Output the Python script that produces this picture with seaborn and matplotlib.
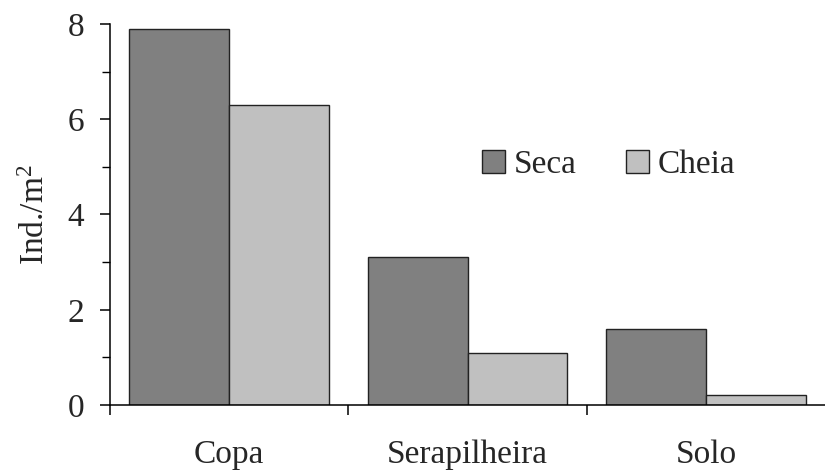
import matplotlib
matplotlib.use("Agg")
import matplotlib.pyplot as plt
import seaborn as sns
import pandas as pd
from matplotlib.ticker import MultipleLocator, FixedLocator

categories = ["Copa", "Serapilheira", "Solo"]
seca = [7.9, 3.1, 1.6]
cheia = [6.3, 1.1, 0.2]
series_names = ["Seca", "Cheia"]
yticks = [0, 2, 4, 6, 8]

sns.set_theme(style="ticks")
plt.rcParams["font.family"] = ["Liberation Serif", "DejaVu Serif"]
plt.rcParams["mathtext.fontset"] = "custom"
plt.rcParams["mathtext.rm"] = "Liberation Serif"
plt.rcParams["mathtext.it"] = "Liberation Serif:italic"
plt.rcParams["mathtext.default"] = "rm"

df = pd.DataFrame({
    "cat": categories * 2,
    "val": seca + cheia,
    "serie": [series_names[0]] * 3 + [series_names[1]] * 3,
})

fig = plt.figure(figsize=(8.25, 4.73), dpi=100)
ax = fig.add_axes([110 / 825, 1 - 405 / 473, 1 - 110 / 825, (405 - 24) / 473])

sns.barplot(data=df, x="cat", y="val", hue="serie", order=categories,
            hue_order=series_names, palette=["#808080", "#c0c0c0"],
            width=0.838, gap=0, edgecolor="#222222", linewidth=1.0,
            saturation=1, ax=ax, legend=True)

ax.set_ylim(0, 8)
ax.set_xlim(-0.5, 2.5)
ax.set_yticks(yticks)
ax.yaxis.set_minor_locator(MultipleLocator(1))
ax.tick_params(axis="y", which="major", direction="out", length=7.5, width=1.1,
               labelsize=24, pad=11, color="black")
ax.tick_params(axis="y", which="minor", direction="out", length=6, width=1.0, color="black")

# x: boundary ticks (major, no labels), labels at centres (minor, no marks)
ax.xaxis.set_major_locator(FixedLocator([-0.5, 0.5, 1.5]))
ax.xaxis.set_minor_locator(FixedLocator([0, 1, 2]))
ax.set_xticklabels([], minor=False)
ax.set_xticklabels(categories, minor=True)
ax.tick_params(axis="x", which="major", direction="out", length=7.5, width=1.1, color="black")
ax.tick_params(axis="x", which="minor", length=0, labelsize=24, pad=25)

for s in ["top", "right"]:
    ax.spines[s].set_visible(False)
for s in ["left", "bottom"]:
    ax.spines[s].set_linewidth(1.1)
    ax.spines[s].set_color("black")

ax.set_xlabel("")
ax.set_ylabel("Ind./m$^{2}$", fontsize=24, labelpad=12)

handles, labels = ax.get_legend_handles_labels()
ax.legend(handles, labels, loc="center left", frameon=False, ncol=2,
          bbox_to_anchor=(482 / 825, 1 - 165 / 473), bbox_transform=fig.transFigure,
          borderpad=0, borderaxespad=0, fontsize=24, handlelength=0.7, handleheight=0.7,
          handletextpad=0.25, columnspacing=1.48)

fig.savefig("out.png", dpi=100)
